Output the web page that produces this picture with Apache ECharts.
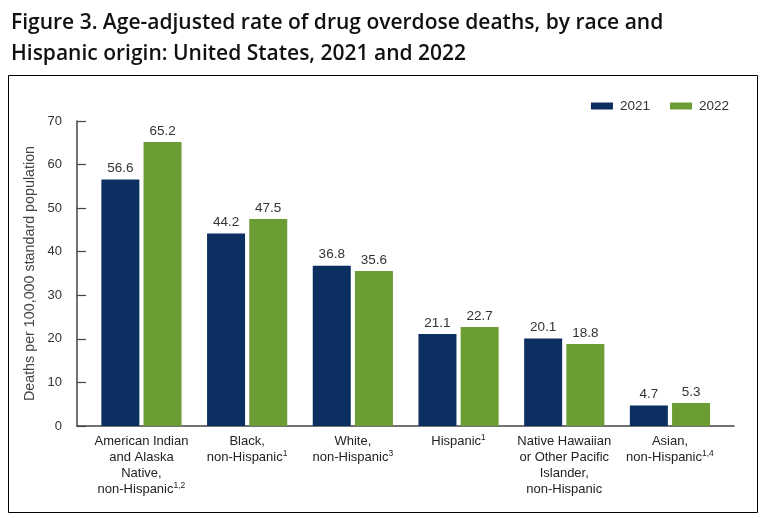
<!DOCTYPE html>
<html><head><meta charset="utf-8">
<script src="https://cdn.jsdelivr.net/npm/echarts@6/dist/echarts.min.js"></script>
<style>html,body{margin:0;padding:0;background:#fff}#c{width:764px;height:518px}</style>
</head><body><div id="c"></div>
<script>
const categories = [
  'American Indian\nand Alaska\nNative,\nnon-Hispanic{s|1,2}',
  'Black,\nnon-Hispanic{s|1}',
  'White,\nnon-Hispanic{s|3}',
  'Hispanic{s|1}',
  'Native Hawaiian\nor Other Pacific\nIslander,\nnon-Hispanic',
  'Asian,\nnon-Hispanic{s|1,4}'
];
const values2021 = [56.6, 44.2, 36.8, 21.1, 20.1, 4.7];
const values2022 = [65.2, 47.5, 35.6, 22.7, 18.8, 5.3];
const seriesNames = ['2021', '2022'];
const titleText = 'Figure 3. Age-adjusted rate of drug overdose deaths, by race and\nHispanic origin: United States, 2021 and 2022';
const yAxisName = 'Deaths per 100,000 standard population';

const chart = echarts.init(document.getElementById('c'), null, {renderer: 'canvas'});
const font = 'Liberation Sans';
const labelCommon = {show: true, position: 'top', distance: 4, color: '#333', fontFamily: font, fontSize: 13.5};
chart.setOption({
  animation: false,
  backgroundColor: '#fff',
  title: {
    text: titleText, left: 6, top: 3,
    textStyle: {fontFamily: 'Open Sans', fontWeight: 600, fontSize: 21, lineHeight: 31, color: '#111'}
  },
  graphic: [{type: 'rect', shape: {x: 8.5, y: 75.5, width: 749, height: 437}, style: {fill: 'none', stroke: '#000', lineWidth: 1}, z: -1}],
  legend: {
    data: seriesNames, right: 30, top: 94, itemWidth: 22, itemHeight: 7, itemGap: 20,
    icon: 'rect', textStyle: {fontFamily: font, fontSize: 13.5, color: '#333', padding: [0, 0, 0, 2]}
  },
  grid: [
    {left: 88.6, right: 41.2, top: 121, bottom: 92},
    {left: 77, right: 30, top: 121, bottom: 92}
  ],
  xAxis: [
    {type: 'category', gridIndex: 0, data: categories,
     axisLine: {show: false}, axisTick: {show: false},
     axisLabel: {interval: 0, margin: 7, color: '#222', fontFamily: font, fontSize: 13, lineHeight: 16,
       rich: {s: {fontSize: 8.5, fontFamily: font, color: '#222', verticalAlign: 'top', lineHeight: 16}}}},
    {type: 'value', gridIndex: 1, min: 0, max: 1,
     axisLine: {show: true, lineStyle: {color: '#444', width: 1.5}}, axisTick: {show: false},
     axisLabel: {show: false}, splitLine: {show: false}}
  ],
  yAxis: [
    {type: 'value', gridIndex: 0, min: 0, max: 70, interval: 10, offset: 11.6,
     name: yAxisName, nameLocation: 'middle', nameGap: 34, nameRotate: 90,
     nameTextStyle: {fontFamily: font, fontSize: 14.3, color: '#444'},
     axisLine: {show: true, lineStyle: {color: '#444', width: 1.5}},
     axisTick: {show: true, inside: true, length: 9, lineStyle: {color: '#444', width: 1.2}},
     axisLabel: {margin: 15, color: '#333', fontFamily: font, fontSize: 13},
     splitLine: {show: false}},
    {type: 'value', gridIndex: 1, min: 0, max: 1, show: false}
  ],
  series: [
    {name: seriesNames[0], type: 'bar', data: values2021, barWidth: 38, barGap: '11%',
     itemStyle: {color: '#0b2f60'}, label: labelCommon},
    {name: seriesNames[1], type: 'bar', data: values2022, barWidth: 38, barGap: '11%',
     itemStyle: {color: '#6c9c34'}, label: labelCommon},
    {type: 'scatter', xAxisIndex: 1, yAxisIndex: 1, data: [], silent: true}
  ]
});
</script></body></html>
